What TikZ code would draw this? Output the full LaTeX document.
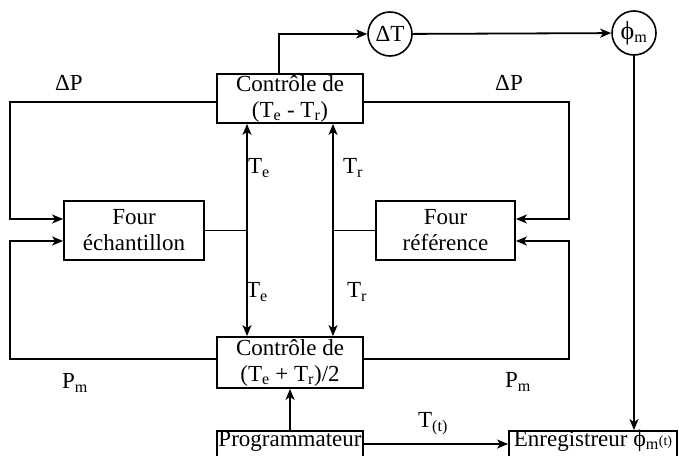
\documentclass[tikz,border=0pt]{standalone}
\usepackage{fontspec}
\setmainfont{Liberation Serif}
\usetikzlibrary{arrows.meta,calc}
\begin{document}
\begin{tikzpicture}[x=1pt,y=-1pt,
  every node/.style={font=\fontsize{23}{26}\selectfont},
  box/.style={draw,line width=1.8pt,inner sep=0pt,align=center},
  lowbox/.style={box,text height=15pt,text depth=11pt},
  circ/.style={draw,circle,line width=1.6pt,minimum size=44pt,inner sep=0pt},
  arr/.style={-{Stealth[length=11pt,width=9pt,inset=3pt]}},
  darr/.style={{Stealth[length=11pt,width=9pt,inset=3pt]}-{Stealth[length=11pt,width=9pt,inset=3pt]}},
  ln/.style={line width=1.8pt},
  lbl/.style={inner sep=0pt}]
\path[use as bounding box] (0,0) rectangle (679,455);
\clip (0,0) rectangle (679,455);
% boxes
\node[box,minimum width=146pt,minimum height=49pt] (top) at (290,98.5) {Contrôle de\\(T\textsubscript{e} - T\textsubscript{r})};
\node[box,minimum width=146pt,minimum height=51pt] (bot) at (290,362.5) {Contrôle de\\(T\textsubscript{e} + T\textsubscript{r})/2};
\node[lowbox,minimum width=146pt,minimum height=26pt] (prog) at (290,444) {Programmateur};
\node[lowbox,minimum width=168pt,minimum height=26pt] (enr) at (593,444) {Enregistreur {\fontsize{24}{26}\selectfont ϕ}\textsubscript{m}\raisebox{1pt}{\fontsize{14}{15}\selectfont(t)}};
\node[box,minimum width=140pt,minimum height=59pt] (fe) at (134,230.5) {Four\\échantillon};
\node[box,minimum width=139pt,minimum height=59pt] (fr) at (445.5,230.5) {Four\\référence};
\node[circ] (dT) at (390,34) {ΔT};
\node[circ] (phi) at (634,33) {{\fontsize{26}{26}\selectfont ϕ}\textsubscript{m}};
% helper coordinates
\coordinate (xe) at (247,0);
\coordinate (xr) at (333,0);
\coordinate (L) at (10,0);
\coordinate (R) at (569,0);
% connectors
\draw[ln,arr] ($(top.north)+(-11,0)$) |- (dT.west);
\draw[ln,arr] (dT) -- (phi);
\draw[ln,arr] (phi.south) -- (phi.south |- enr.north);
\draw[ln,arr] (prog.north) -- (bot.south);
\draw[ln,arr] (prog.east) -- (enr.west);
\draw[ln,darr] (top.south -| xe) -- (bot.north -| xe);
\draw[ln,darr] (top.south -| xr) -- (bot.north -| xr);
\draw[ln] (fe.east) -- (fe.east -| xe);
\draw[ln] (fr.west) -- (fr.west -| xr);
\draw[ln,arr] ($(top.west)+(0,3.5)$) -| ($(L)+(0,219)$) -- ($(fe.west)+(0,-11.5)$);
\draw[ln,arr] ($(bot.west)+(0,-3.5)$) -| ($(L)+(0,241)$) -- ($(fe.west)+(0,10.5)$);
\draw[ln,arr] ($(top.east)+(0,3.5)$) -| ($(R)+(0,219)$) -- ($(fr.east)+(0,-11.5)$);
\draw[ln,arr] ($(bot.east)+(0,-3.5)$) -| ($(R)+(0,241)$) -- ($(fr.east)+(0,10.5)$);
% labels
\node[lbl] (dp1) at (69,83) {ΔP};
\node[lbl] (dp2) at (509,83) {ΔP};
\node[lbl] (te1) at (259,168) {T\textsubscript{e}};
\node[lbl] (tr1) at (353,168) {T\textsubscript{r}};
\node[lbl] (te2) at (257,292) {T\textsubscript{e}};
\node[lbl] (tr2) at (357,292) {T\textsubscript{r}};
\node[lbl] (pm1) at (75,383) {P\textsubscript{m}};
\node[lbl] (pm2) at (518,382) {P\textsubscript{m}};
\node[lbl] (tt) at (433,424) {T\textsubscript{(t)}};
\end{tikzpicture}
\end{document}
